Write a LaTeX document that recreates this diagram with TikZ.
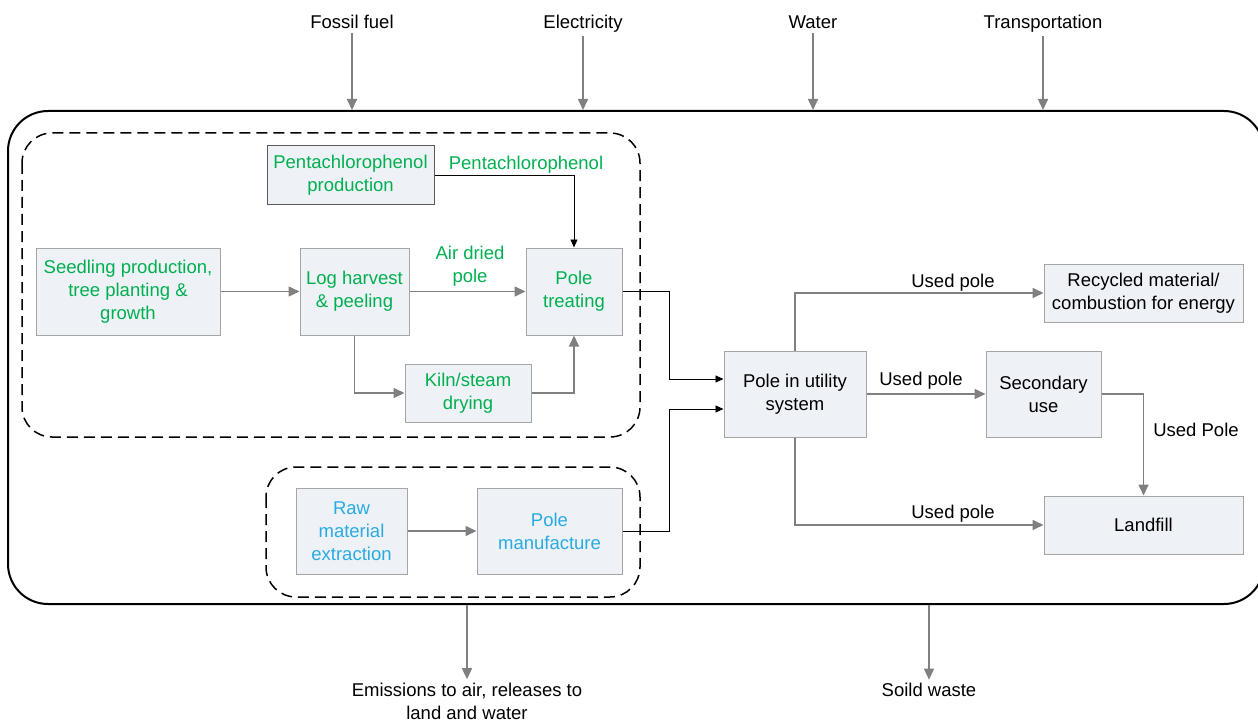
\documentclass[tikz,border=0pt]{standalone}
\usepackage{xcolor}
\usepackage{fontspec}
\setmainfont{Liberation Sans}
\usepackage{tikz}
\usetikzlibrary{positioning,arrows.meta}

\definecolor{leafgreen}{RGB}{0,176,80}
\definecolor{skyblue}{RGB}{41,171,226}
\definecolor{boxfill}{RGB}{238,241,246}
\definecolor{boxline}{RGB}{165,165,165}
\definecolor{flowgray}{RGB}{128,128,128}

\begin{document}
\begin{tikzpicture}[x=1pt, y=-1pt, font=\fontsize{18.5}{23}\selectfont,
    box/.style={draw=boxline, fill=boxfill, align=center, inner sep=2pt, line width=1pt},
    flow/.style={draw=flowgray, line width=1.6pt, -{Triangle[length=11pt,width=10pt]}},
    thinflow/.style={draw=black, line width=0.9pt, -{Triangle[length=8pt,width=7pt]}},
    group/.style={dash pattern=on 11pt off 6pt, line width=1.5pt, rounded corners=30pt}]
    \useasboundingbox (0,0) rectangle (1258,722);

    % system boundary and the two groups
    \node[draw, line width=2pt, rounded corners=40pt, minimum width=1256, minimum height=493] (system) at (636,357.5) {};
    \draw[group] (22,133) rectangle (640,437);
    \draw[group] (266,467) rectangle (640,597);

    % wood pole life cycle
    \node[box, draw=black!65, minimum width=167, minimum height=59, text=leafgreen] (pcpprod) at (350.5,175.5) {Pentachlorophenol\\production};
    \node[box, minimum width=184, minimum height=87, text=leafgreen] (seedling) at (128,291.5) {Seedling production,\\tree planting \&\\growth};
    \node[box, minimum width=109, minimum height=87, text=leafgreen] (harvest) at (354.5,291.5) {Log harvest\\\& peeling};
    \node[box, minimum width=96, minimum height=87, text=leafgreen] (treating) at (574,291.5) {Pole\\treating};
    \node[box, minimum width=126, minimum height=58, text=leafgreen] (kiln) at (468,393) {Kiln/steam\\drying};

    % other pole materials
    \node[box, minimum width=111, minimum height=86, text=skyblue] (rawmat) at (351.5,531) {Raw\\material\\extraction};
    \node[box, minimum width=145, minimum height=86, text=skyblue] (manufacture) at (549.5,531) {Pole\\manufacture};

    % use and end of life
    \node[box, minimum width=142, minimum height=86] (utility) at (795,394) {Pole in utility\\system};
    \node[box, minimum width=199, minimum height=58] (recycled) at (1143.5,293) {Recycled material/\\combustion for energy};
    \node[box, minimum width=115, minimum height=86] (secondary) at (1043.5,394) {Secondary\\use};
    \node[box, minimum width=199, minimum height=58] (landfill) at (1143.5,525) {Landfill};

    % inputs and outputs
    \node[anchor=base] (fossil) at (352,29) {Fossil fuel};
    \node[anchor=base] (electricity) at (583,29) {Electricity};
    \node[anchor=base] (water) at (813,29) {Water};
    \node[anchor=base] (transport) at (1043,29) {Transportation};
    \node[align=center] (emissions) at (467,701) {Emissions to air, releases to\\land and water};
    \node (waste) at (929,690) {Soild waste};

    \draw[flow] (fossil) -- (fossil |- system.north);
    \draw[flow] (electricity) -- (electricity |- system.north);
    \draw[flow] (water) -- (water |- system.north);
    \draw[flow] (transport) -- (transport |- system.north);
    \draw[flow] (emissions |- system.south) -- (emissions);
    \draw[flow] (waste |- system.south) -- (waste);

    % flows
    \draw[flow] (seedling) -- (harvest);
    \draw[flow] (harvest) -- (treating);
    \draw[flow] (harvest.south) |- (kiln.west);
    \draw[flow] (kiln.east) -| (treating.south);
    \draw[thinflow] (pcpprod.east) -| (treating.north);
    \draw[flow] (rawmat) -- (manufacture);
    \draw[thinflow] (treating.east) -- ++(47,0) |- ([yshift=15pt]utility.west);
    \draw[thinflow] (manufacture.east) -- ++(47,0) |- ([yshift=-15pt]utility.west);
    \draw[flow] (utility.north) |- (recycled.west);
    \draw[flow] (utility) -- (secondary);
    \draw[flow] (secondary.east) -| (landfill.north);
    \draw[flow] (utility.south) |- (landfill.west);

    \node[text=leafgreen] (pcplabel) at (526,165) {Pentachlorophenol};
    \node[text=leafgreen, align=center] (airdried) at (470,266) {Air dried\\pole};
    \node (usedrec) at (953,283) {Used pole};
    \node (usedsec) at (921,381) {Used pole};
    \node (usedland) at (953,514) {Used pole};
    \node (usedPole) at (1196,430) {Used Pole};
\end{tikzpicture}
\end{document}
